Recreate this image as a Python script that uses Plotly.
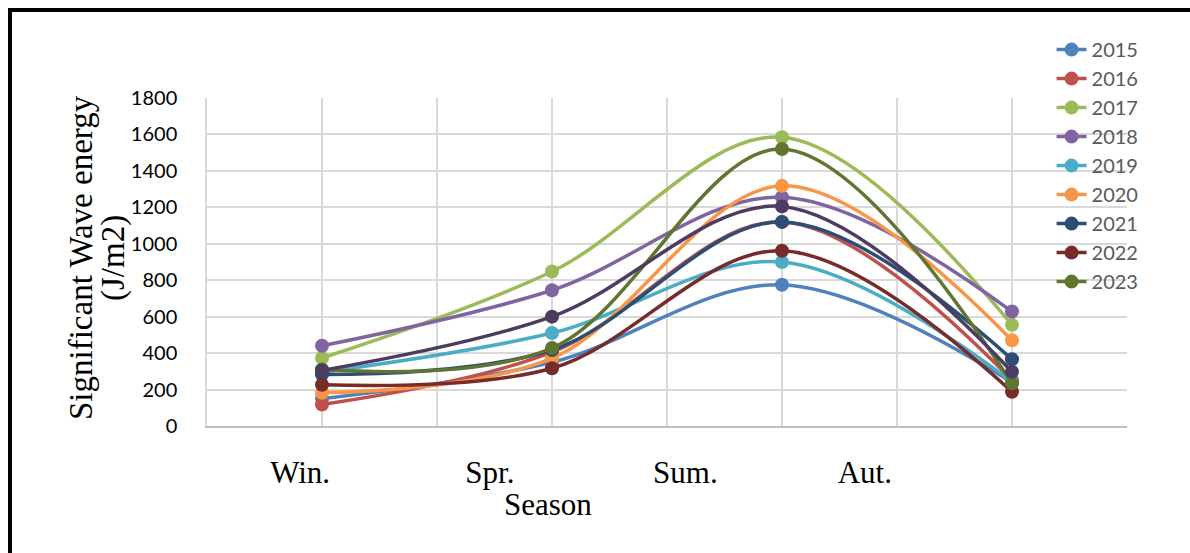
import plotly.graph_objects as go

seasons = ["Win.", "Spr.", "Sum.", "Aut."]
years = ["2015", "2016", "2017", "2018", "2019", "2020", "2021", "2022", "2023", "Series 10"]
values = {
    "2015": [150, 350, 775, 240],
    "2016": [118, 405, 1120, 252],
    "2017": [373, 848, 1585, 555],
    "2018": [440, 745, 1255, 628],
    "2019": [295, 510, 900, 243],
    "2020": [182, 372, 1318, 470],
    "2021": [282, 417, 1120, 366],
    "2022": [226, 317, 962, 188],
    "2023": [310, 428, 1520, 234],
    "Series 10": [305, 600, 1205, 298],
}
colors = {
    "2015": "#4F81BD", "2016": "#C0504D", "2017": "#9BBB59", "2018": "#8064A2",
    "2019": "#4BACC6", "2020": "#F79646", "2021": "#2C4D75", "2022": "#772C2A",
    "2023": "#5F7530", "Series 10": "#4D3B62",
}
# season label positions on the numeric x axis (as placed in the original)
season_label_pos = [0.81, 2.46, 4.16, 5.72]

xpos = [2 * i + 1 for i in range(len(seasons))]

fig = go.Figure()
for y in years:
    fig.add_trace(go.Scatter(
        x=xpos, y=values[y], name=y, mode="lines+markers",
        line=dict(color=colors[y], width=3.5, shape="spline", smoothing=1.0),
        marker=dict(color=colors[y], size=14),
        legendgroup=y,
        showlegend=(y != "Series 10"),
    ))

grid = "#D9D9D9"
serif = "Liberation Serif, Times New Roman, serif"
sans = "Lato, Open Sans, sans-serif"
fig.update_layout(
    width=1190, height=553,
    margin=dict(l=207, r=63, t=98, b=127),
    paper_bgcolor="white", plot_bgcolor="white",
    showlegend=True,
    legend=dict(
        x=0.918, y=1.207, xanchor="left", yanchor="top",
        font=dict(family=sans, size=20, color="#595959"),
        tracegroupgap=0, bgcolor="rgba(0,0,0,0)", maxheight=500,
    ),
    xaxis=dict(
        range=[0, 8], showgrid=False, zeroline=False,
        tickmode="array", tickvals=season_label_pos, ticktext=seasons,
        ticks="", ticklabelstandoff=18,
        tickfont=dict(family=serif, size=31, color="black"),
        showline=True, linecolor="#BFBFBF", linewidth=1.5,
        minor=dict(tickmode="linear", tick0=0, dtick=1, showgrid=True, gridcolor=grid, gridwidth=1.5, ticks=""),
    ),
    yaxis=dict(
        range=[0, 1800], dtick=200, showgrid=True, gridcolor=grid, gridwidth=1.5,
        zeroline=False, showline=True, linecolor="#D9D9D9", linewidth=1.5,
        ticks="", ticklabelstandoff=24,
        tickfont=dict(family=sans, size=20, color="black"),
    ),
)

# x-axis title
fig.add_annotation(
    text="Season", xref="paper", yref="paper",
    x=(548 - 207) / 920, y=(426 - 504) / 328, xanchor="center", yanchor="middle",
    showarrow=False, font=dict(family=serif, size=31, color="black"),
)
# y-axis title (two lines)
fig.add_annotation(
    text="Significant Wave energy", xref="paper", yref="paper",
    x=(81 - 207) / 920, y=(426 - 258) / 328, xanchor="center", yanchor="middle",
    textangle=-90, showarrow=False, font=dict(family=serif, size=33, color="black"),
)
fig.add_annotation(
    text="(J/m2)", xref="paper", yref="paper",
    x=(113 - 207) / 920, y=(426 - 258) / 328, xanchor="center", yanchor="middle",
    textangle=-90, showarrow=False, font=dict(family=serif, size=33, color="black"),
)

# frame (left and top black border)
fig.add_shape(type="line", xref="paper", yref="paper",
              x0=(10 - 207) / 920, x1=(10 - 207) / 920, y0=(426 - 8) / 328, y1=(426 - 560) / 328,
              line=dict(color="black", width=4))
fig.add_shape(type="line", xref="paper", yref="paper",
              x0=(8 - 207) / 920, x1=(1200 - 207) / 920, y0=(426 - 10) / 328, y1=(426 - 10) / 328,
              line=dict(color="black", width=4))

fig.write_html("out.html", config={"displayModeBar": False},
               post_script="document.body.style.margin='0';document.body.style.padding='0';")
